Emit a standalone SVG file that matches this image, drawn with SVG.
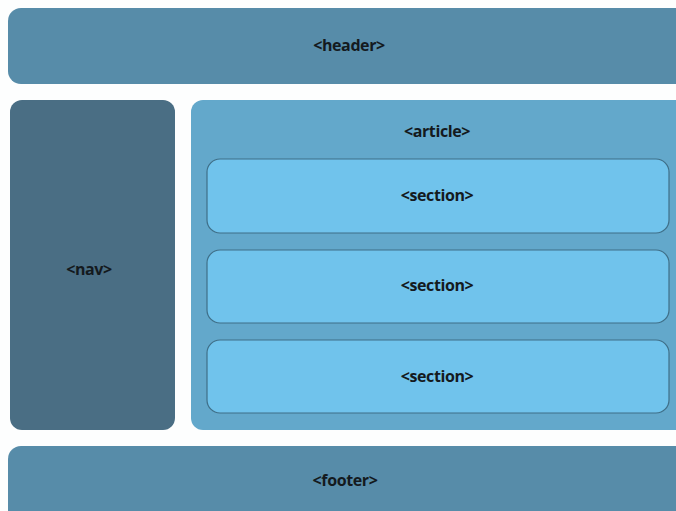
<svg xmlns="http://www.w3.org/2000/svg" width="676" height="511" viewBox="0 0 676 511">
<style>
.lbl{font-family:"Open Sans","Liberation Sans",sans-serif;font-weight:bold;font-size:16px;letter-spacing:-0.4px;fill:#141a1e;text-anchor:middle;dominant-baseline:central}
.sec{fill:#70c3ec;stroke:#3f6f88;stroke-width:1.2}
</style>
<rect width="676" height="511" fill="#fdfefe"/>
<g id="header">
<rect x="8" y="8" width="690" height="76" rx="13" fill="#578ca9"/>
<text class="lbl" x="349" y="45">&lt;header&gt;</text>
</g>
<g id="nav">
<rect x="10" y="100" width="165" height="330" rx="12" fill="#4a6e84"/>
<text class="lbl" x="89" y="269">&lt;nav&gt;</text>
</g>
<g id="article">
<rect x="191" y="100" width="500" height="330" rx="12" fill="#63a8cb"/>
<text class="lbl" x="437" y="131">&lt;article&gt;</text>
</g>
<g id="section1">
<rect class="sec" x="207" y="159" width="462" height="74" rx="13"/>
<text class="lbl" x="437" y="195">&lt;section&gt;</text>
</g>
<g id="section2">
<rect class="sec" x="207" y="250" width="462" height="73" rx="13"/>
<text class="lbl" x="437" y="285">&lt;section&gt;</text>
</g>
<g id="section3">
<rect class="sec" x="207" y="340" width="462" height="73" rx="13"/>
<text class="lbl" x="437" y="376">&lt;section&gt;</text>
</g>
<g id="footer">
<rect x="8" y="446" width="690" height="80" rx="13" fill="#578ca9"/>
<text class="lbl" x="345" y="480">&lt;footer&gt;</text>
</g>
<g id="connectors"/>
</svg>
